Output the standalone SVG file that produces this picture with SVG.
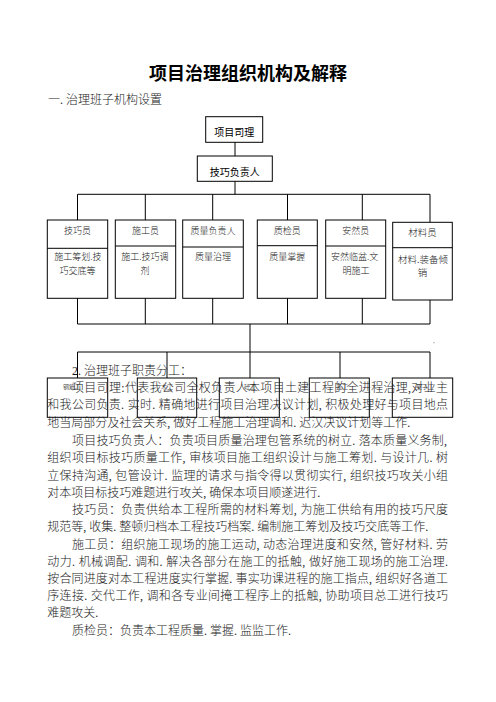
<svg xmlns="http://www.w3.org/2000/svg" width="496" height="702" viewBox="0 0 496 702">
<style>
.box{fill:none;stroke:#000;stroke-width:1}
.conn line{stroke:#000;stroke-width:1}
.title{font-family:"Noto Sans CJK SC",sans-serif;font-size:18px;font-weight:bold;fill:#000}
.body{font-family:"Liberation Serif","Noto Sans CJK SC",serif;font-size:12px;fill:#1a1a1a;font-weight:300}
.bs{font-family:"Liberation Sans","Noto Sans CJK SC",sans-serif;font-size:10px;fill:#000;text-anchor:middle}
.bt{font-family:"Liberation Serif","Noto Sans CJK SC",serif;font-size:9px;fill:#222;text-anchor:middle;font-weight:300}
.tiny{font-family:"Noto Sans CJK SC",sans-serif;font-size:6px;fill:#555;text-anchor:middle}
</style>
<rect width="496" height="702" fill="#fff"/>
<text class="title" x="248" y="80" text-anchor="middle">项目治理组织机构及解释</text>
<text class="body" x="48" y="104">一. 治理班子机构设置</text>

<g class="conn" id="connectors">
<line x1="235" y1="142" x2="235" y2="156"/>
<line x1="235" y1="181.3" x2="235" y2="194.3"/>
<line x1="77.5" y1="194.3" x2="430" y2="194.3"/>
<line x1="77.5" y1="194.3" x2="77.5" y2="220"/>
<line x1="145.3" y1="194.3" x2="145.3" y2="220"/>
<line x1="212.7" y1="194.3" x2="212.7" y2="220"/>
<line x1="287.5" y1="194.3" x2="287.5" y2="220"/>
<line x1="362.3" y1="194.3" x2="362.3" y2="220"/>
<line x1="430" y1="194.3" x2="430" y2="222.3"/>
<line x1="77.5" y1="298.3" x2="77.5" y2="324"/>
<line x1="145.3" y1="298.3" x2="145.3" y2="324"/>
<line x1="212.7" y1="298.3" x2="212.7" y2="324"/>
<line x1="287.5" y1="298.3" x2="287.5" y2="324"/>
<line x1="362.3" y1="298.3" x2="362.3" y2="324"/>
<line x1="430" y1="300" x2="430" y2="324"/>
<line x1="77.5" y1="324" x2="430" y2="324"/>
<line x1="250" y1="324" x2="250" y2="352"/>
<line x1="77.5" y1="352" x2="430" y2="352"/>
<line x1="77.5" y1="352" x2="77.5" y2="378"/>
<line x1="167" y1="352" x2="167" y2="378"/>
<line x1="250" y1="352" x2="250" y2="378"/>
<line x1="340" y1="352" x2="340" y2="378"/>
<line x1="430" y1="352" x2="430" y2="378"/>
</g>

<g id="pm">
<rect class="box" x="205.7" y="116.7" width="57" height="25.6"/>
<text class="bs" x="234.2" y="136">项目司理</text>
</g>
<g id="tech-lead">
<rect class="box" x="197.3" y="156" width="75" height="25.3"/>
<text class="bs" x="234.8" y="176">技巧负责人</text>
</g>

<g id="n1">
<rect class="box" x="47.3" y="220" width="60.4" height="78.3"/>
<line x1="47.3" y1="248.3" x2="107.7" y2="248.3" stroke="#000"/>
<text class="bt" x="77.5" y="233.5">技巧员</text>
<text class="bt" x="77.8" y="259.5">施工筹划.技</text>
<text class="bt" x="77.5" y="273.5">巧交底等</text>
</g>
<g id="n2">
<rect class="box" x="115.3" y="220" width="60.4" height="78.3"/>
<line x1="115.3" y1="246" x2="175.7" y2="246" stroke="#000"/>
<text class="bt" x="145.5" y="233.5">施工员</text>
<text class="bt" x="145" y="259.5">施工.技巧调</text>
<text class="bt" x="145" y="273.5">剂</text>
</g>
<g id="n3">
<rect class="box" x="182.7" y="220" width="60.6" height="78.3"/>
<line x1="182.7" y1="247" x2="243.3" y2="247" stroke="#000"/>
<text class="bt" x="213" y="233.5">质量负责人</text>
<text class="bt" x="213" y="259.5">质量治理</text>
</g>
<g id="n4">
<rect class="box" x="257.3" y="220" width="60" height="78.3"/>
<line x1="257.3" y1="245.7" x2="317.3" y2="245.7" stroke="#000"/>
<text class="bt" x="287.3" y="233.5">质检员</text>
<text class="bt" x="287.3" y="259.5">质量掌握</text>
</g>
<g id="n5">
<rect class="box" x="325.7" y="220" width="60" height="78.3"/>
<line x1="325.7" y1="246" x2="385.7" y2="246" stroke="#000"/>
<text class="bt" x="355.7" y="233.5">安然员</text>
<text class="bt" x="354.7" y="259.5">安然临盆.文</text>
<text class="bt" x="356" y="273.5">明施工</text>
</g>
<g id="n6">
<rect class="box" x="392.7" y="222.3" width="59.6" height="77.7"/>
<line x1="392.7" y1="247.7" x2="452.3" y2="247.7" stroke="#000"/>
<text class="bt" x="422.5" y="236" style="font-size:9.5px">材料员</text>
<text class="bt" x="423" y="262.5" style="font-size:9.5px">材料.装备倾</text>
<text class="bt" x="422.5" y="275.5" style="font-size:9.5px">销</text>
</g>

<circle cx="434" cy="342.7" r="0.6" fill="#888"/>

<g id="w1"><rect class="box" x="47.3" y="378" width="60.4" height="39.3"/><text class="tiny" x="72" y="389">钢筋工</text></g>
<g id="w2"><rect class="box" x="137.3" y="378" width="59.4" height="39.3"/><text class="tiny" x="167" y="389">木工</text></g>
<g id="w3"><rect class="box" x="219.3" y="378" width="60" height="39.3"/><text class="tiny" x="250" y="389">砼工</text></g>
<g id="w4"><rect class="box" x="309.3" y="378" width="60" height="39.3"/><text class="tiny" x="342" y="389">瓦工</text></g>
<g id="w5"><rect class="box" x="392.3" y="378" width="60.4" height="39.3"/><text class="tiny" x="425" y="389">架子工</text></g>

<g id="duties">
<text class="body" x="72" y="374.5">2. 治理班子职责分工：</text>
<text class="body" x="72" y="391.5" textLength="376" lengthAdjust="spacing">项目司理:代表我公司全权负责人本项目土建工程的全进程治理,对业主</text>
<text class="body" x="47.3" y="409" textLength="400.7" lengthAdjust="spacing">和我公司负责. 实时. 精确地进行项目治理决议计划, 积极处理好与项目地点</text>
<text class="body" x="47.3" y="426.5">地当局部分及社会关系, 做好工程施工治理调和. 迟汉决议计划等工作.</text>
<text class="body" x="72" y="445" textLength="375" lengthAdjust="spacing">项目技巧负责人：负责项目质量治理包管系统的树立. 落本质量义务制,</text>
<text class="body" x="47.3" y="462" textLength="400.7" lengthAdjust="spacing">组织项目标技巧质量工作, 审核项目施工组织设计与施工筹划. 与设计几. 树</text>
<text class="body" x="47.3" y="479.5" textLength="400.7" lengthAdjust="spacing">立保持沟通, 包管设计. 监理的请求与指令得以贯彻实行, 组织技巧攻关小组</text>
<text class="body" x="47.3" y="496.5">对本项目标技巧难题进行攻关, 确保本项目顺遂进行.</text>
<text class="body" x="72" y="513.5" textLength="376" lengthAdjust="spacing">技巧员：负责供给本工程所需的材料筹划, 为施工供给有用的技巧尺度</text>
<text class="body" x="47.3" y="530.5">规范等, 收集. 整顿归档本工程技巧档案. 编制施工筹划及技巧交底等工作.</text>
<text class="body" x="72" y="548.5" textLength="376" lengthAdjust="spacing">施工员：组织施工现场的施工运动, 动态治理进度和安然, 管好材料. 劳</text>
<text class="body" x="47.3" y="565.5" textLength="400.7" lengthAdjust="spacing">动力. 机械调配. 调和. 解决各部分在施工的抵触, 做好施工现场的施工治理.</text>
<text class="body" x="47.3" y="582.5" textLength="400.7" lengthAdjust="spacing">按合同进度对本工程进度实行掌握. 事实功课进程的施工指点, 组织好各道工</text>
<text class="body" x="47.3" y="599.5" textLength="400.7" lengthAdjust="spacing">序连接. 交代工作, 调和各专业间掩工程序上的抵触, 协助项目总工进行技巧</text>
<text class="body" x="47.3" y="616.5">难题攻关.</text>
<text class="body" x="72" y="634.5">质检员：负责本工程质量. 掌握. 监监工作.</text>
</g>
</svg>
